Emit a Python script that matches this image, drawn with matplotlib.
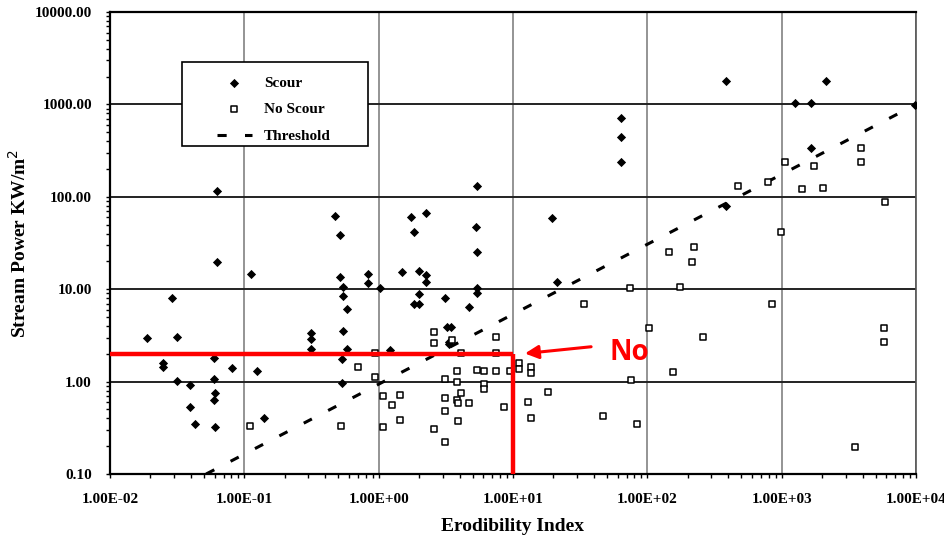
import matplotlib
matplotlib.use('Agg')
import matplotlib.pyplot as plt
import matplotlib.ticker as mticker
from matplotlib.patches import Rectangle
from matplotlib.lines import Line2D

# erodibility index / stream power pairs
scour_x = [0.0625, 0.0625, 0.112, 0.472, 0.514, 0.514, 0.545, 0.545, 0.84, 0.84,
           0.0288, 0.0188, 0.0315, 0.583, 0.545, 0.583, 0.315, 0.315, 0.315, 0.536,
           0.025, 0.025, 0.059, 0.081, 0.124, 0.0315, 0.0396, 0.059, 0.536, 0.060,
           0.059, 0.0396, 0.043, 0.060, 0.141,
           5.38, 1.73, 2.27, 1.83, 5.32, 5.38, 19.5, 1.48, 2.0, 2.27, 2.27, 1.03,
           5.38, 5.38, 2.0, 1.83, 2.0, 3.11, 4.74, 3.44, 3.25, 3.35, 3.35, 1.21, 21.2,
           63.2, 63.2, 63.2, 382, 2143, 1256, 1655, 9890, 1655, 384]
scour_y = [116, 19.5, 14.5, 62, 38.6, 13.6, 10.5, 8.4, 14.6, 11.7,
           7.96, 2.94, 3.06, 6.1, 3.53, 2.24, 3.33, 2.87, 2.25, 1.74,
           1.6, 1.43, 1.79, 1.41, 1.31, 1.02, 0.92, 1.07, 0.96, 0.746,
           0.63, 0.53, 0.35, 0.325, 0.40,
           132, 60, 66, 41.6, 46.8, 25.5, 59.5, 15.2, 15.7, 14.3, 11.9, 10.2,
           10.2, 9.2, 8.9, 7.0, 7.0, 8.0, 6.4, 3.87, 3.87, 2.71, 2.55, 2.2, 12.1,
           718, 447, 236, 1806, 1806, 1028, 1028, 986, 335, 80]

noscour_x = [0.111, 0.52, 0.705, 0.94, 0.94,
             2.58, 2.58, 3.51, 7.5, 7.5, 4.09, 3.82, 5.36, 6.1, 7.5, 9.55, 11.0, 11.1,
             13.6, 13.6, 3.11, 3.82, 6.04, 6.1, 1.08, 1.44, 1.26, 3.11, 3.82, 3.9,
             4.09, 4.74, 3.11, 8.6, 12.9, 18.1, 13.6, 1.08, 1.44, 2.58, 3.9, 3.11,
             46.7, 83.7, 76, 73.8, 34, 103,
             470, 787, 1060, 1754, 1409, 2023, 3908, 3908, 5900, 988, 144, 222, 216,
             174, 841, 260, 155, 5770, 5770, 3524]
noscour_y = [0.33, 0.33, 1.45, 1.13, 2.06,
             3.41, 2.63, 2.82, 3.06, 2.06, 2.06, 1.30, 1.32, 1.30, 1.30, 1.29, 1.58, 1.36,
             1.43, 1.25, 1.06, 0.98, 0.94, 0.83, 0.70, 0.71, 0.56, 0.66, 0.63, 0.58,
             0.76, 0.59, 0.48, 0.53, 0.60, 0.77, 0.40, 0.325, 0.38, 0.31, 0.37, 0.22,
             0.42, 0.35, 1.05, 10.4, 7.0, 3.8,
             132, 146, 240, 217, 121, 124, 335, 240, 87, 41.9, 25.5, 28.9, 19.9,
             10.6, 7.0, 3.06, 1.28, 3.83, 2.71, 0.195]

threshold_x = [0.052, 1e4]
threshold_y = [0.1, 1000]

# red overlay: stream power 2 at erodibility index 10
red_h_x = [0.01, 10]
red_h_y = [2, 2]
red_v_x = [10, 10]
red_v_y = [2, 0.1]

xticks = [1e-2, 1e-1, 1e0, 1e1, 1e2, 1e3, 1e4]
xtick_labels = ['1.00E-02', '1.00E-01', '1.00E+00', '1.00E+01', '1.00E+02', '1.00E+03', '1.00E+04']
yticks = [0.1, 1, 10, 100, 1000, 10000]
ytick_labels = ['0.10', '1.00', '10.00', '100.00', '1000.00', '10000.00']

serif = 'Liberation Serif'

fig = plt.figure(figsize=(9.45, 5.39), dpi=100)
ax = fig.add_axes([0.1164, 0.1206, 0.8529, 0.8571])
ax.set_xscale('log')
ax.set_yscale('log')
ax.set_xlim(1e-2, 1e4)
ax.set_ylim(0.1, 10000)

ax.xaxis.grid(True, color='#777777', lw=1.1)
ax.yaxis.grid(True, color='#222222', lw=1.4)
ax.set_axisbelow(True)

h1 = ax.scatter(scour_x, scour_y, marker='D', s=22, color='black', lw=0, zorder=3)
h2 = ax.scatter(noscour_x, noscour_y, marker='s', s=24, facecolor='white', edgecolor='black',
                lw=1.1, zorder=3)
ax.plot(threshold_x, threshold_y, color='black', lw=2.2, dashes=(3, 6), zorder=2)
h3 = Line2D([], [], color='black', lw=2.2, dashes=(3, 6))

ax.plot(red_h_x, red_h_y, color='#ff0000', lw=3.2, solid_capstyle='butt', zorder=5)
ax.plot(red_v_x, red_v_y, color='#ff0000', lw=3.2, solid_capstyle='butt', zorder=5)
ax.annotate('', xy=(11.7, 2.0), xytext=(40, 2.4),
            arrowprops=dict(arrowstyle='-|>', color='#ff0000', lw=2.2, mutation_scale=20), zorder=6)
ax.text(73.5, 2.09, 'No', color='#ff0000', fontsize=20, fontweight='bold',
        family='Open Sans', ha='center', va='center', zorder=6)

ax.xaxis.set_major_locator(mticker.FixedLocator(xticks))
ax.xaxis.set_major_formatter(mticker.FixedFormatter(xtick_labels))
ax.yaxis.set_major_locator(mticker.FixedLocator(yticks))
ax.yaxis.set_major_formatter(mticker.FixedFormatter(ytick_labels))
ax.xaxis.set_minor_locator(mticker.LogLocator(base=10, subs=range(2, 10), numticks=20))
ax.yaxis.set_minor_locator(mticker.LogLocator(base=10, subs=range(2, 10), numticks=20))
ax.xaxis.set_minor_formatter(mticker.NullFormatter())
ax.yaxis.set_minor_formatter(mticker.NullFormatter())
ax.tick_params(which='both', direction='out', length=3, width=1, color='black')
ax.tick_params(axis='x', which='major', pad=11)
ax.tick_params(axis='y', which='major', pad=10)
for lab in ax.get_xticklabels():
    lab.set_family(serif)
    lab.set_fontweight('bold')
    lab.set_fontsize(11)
for lab in ax.get_yticklabels():
    lab.set_family(serif)
    lab.set_fontweight('bold')
    lab.set_fontsize(11)

for side in ['left', 'bottom', 'top']:
    ax.spines[side].set_linewidth(1.6)
    ax.spines[side].set_color('black')
ax.spines['right'].set_linewidth(1.2)
ax.spines['right'].set_color('#555555')

ax.set_xlabel('Erodibility Index', family=serif, fontweight='bold', fontsize=14, labelpad=8)
ax.set_ylabel('Stream Power KW/m$^2$', family=serif, fontweight='bold', fontsize=14)
ax.yaxis.set_label_coords(-0.099, 0.5)

# legend box
ax.add_patch(Rectangle((0.0893, 0.710), 0.2308, 0.1818, transform=ax.transAxes,
                       facecolor='white', edgecolor='black', lw=1.2, zorder=4))
leg = ax.legend([h1, h2, h3], ['Scour', 'No Scour', 'Threshold'],
                loc='upper left', bbox_to_anchor=(0.117, 0.888), frameon=False,
                prop={'family': serif, 'weight': 'bold', 'size': 11},
                handlelength=2.3, handletextpad=0.8, labelspacing=0.85, borderpad=0.3)
leg.set_zorder(5)

plt.savefig('out.png', dpi=100)
